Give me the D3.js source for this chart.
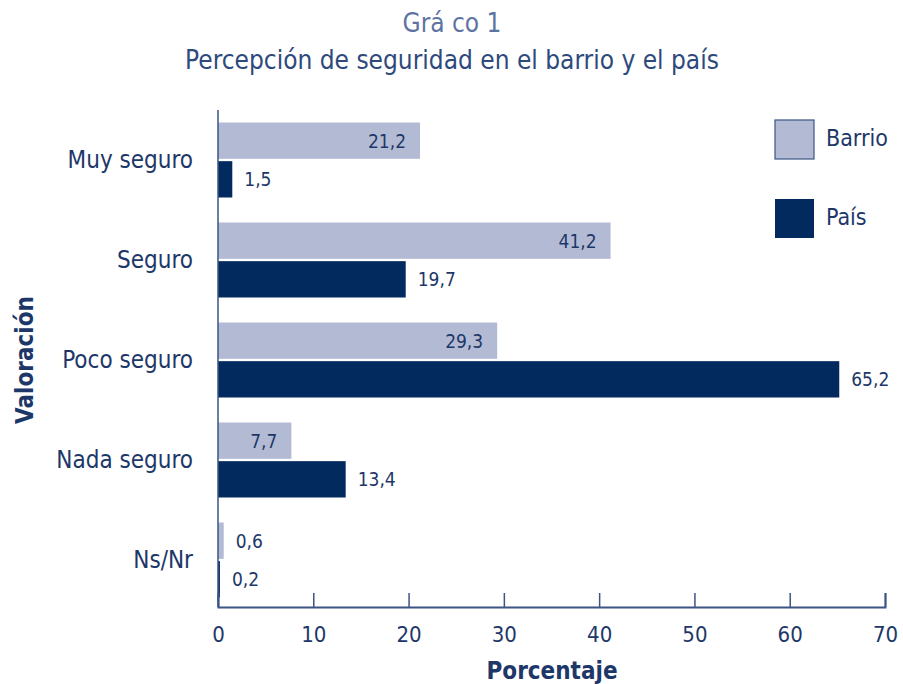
<!DOCTYPE html>
<html>
<head>
<meta charset="utf-8">
<script src="https://cdn.jsdelivr.net/npm/d3@7"></script>
<style>
body{margin:0;background:#fff;}
text{font-family:"Liberation Sans Narrow","DejaVu Sans Condensed",sans-serif;}
</style>
</head>
<body>
<script>
var categories=["Muy seguro","Seguro","Poco seguro","Nada seguro","Ns/Nr"];
var series=["Barrio","País"];
var barrio=[21.2,41.2,29.3,7.7,0.6];
var pais=[1.5,19.7,65.2,13.4,0.2];
var xTicks=[0,10,20,30,40,50,60,70];
var colors={"Barrio":"#b3bbd4","País":"#022a5e"};
var ink="#1d3768";
var font='"Liberation Sans Narrow","DejaVu Sans Condensed",sans-serif';

var W=903,H=684;
var svg=d3.select("body").append("svg").attr("width",W).attr("height",H);

var x=d3.scaleLinear().domain([0,70]).range([218,885]);
var y=d3.scaleBand().domain(categories).range([110,610]).paddingInner(0.25).paddingOuter(0.125);
var ySub=d3.scaleBand().domain(series).range([0,y.bandwidth()]).paddingInner(0.06);

var rows=categories.map(function(c,i){return {cat:c,vals:[{s:"Barrio",v:barrio[i]},{s:"País",v:pais[i]}]};});

// title
svg.append("text").attr("x",452).attr("y",32).attr("text-anchor","middle")
  .attr("font-size",26).attr("fill","#5d74a3").text("Grá  co 1");
svg.append("text").attr("x",452).attr("y",69).attr("text-anchor","middle")
  .attr("font-size",26).attr("fill","#2e4a7c").text("Percepción de seguridad en el barrio y el país");

var g=svg.selectAll("g.cat").data(rows).enter().append("g").attr("class","cat")
  .attr("transform",function(d){return "translate(0,"+y(d.cat)+")";});

g.selectAll("rect").data(function(d){return d.vals;}).enter().append("rect")
  .attr("x",x(0)).attr("y",function(d){return ySub(d.s);})
  .attr("width",function(d){return x(d.v)-x(0);})
  .attr("height",ySub.bandwidth())
  .attr("fill",function(d){return colors[d.s];});

g.selectAll("text.val").data(function(d){return d.vals;}).enter().append("text")
  .attr("class","val")
  .attr("x",function(d){
    var w=x(d.v)-x(0);
    if(d.s=="Barrio" && w>50) return x(d.v)-14;
    return x(d.v)+12;
  })
  .attr("text-anchor",function(d){return (d.s=="Barrio" && x(d.v)-x(0)>50)?"end":"start";})
  .attr("y",function(d){return ySub(d.s)+ySub.bandwidth()/2;})
  .attr("dy","0.36em").attr("font-size",19).attr("fill",ink)
  .text(function(d){return String(d.v.toFixed(1)).replace(".",",");});

// axes
var xAxis=d3.axisBottom(x).tickValues(xTicks).tickSize(-14).tickPadding(19).tickFormat(function(d){return d;});
var ax=svg.append("g").attr("transform","translate(0,607)").call(xAxis);
ax.select(".domain").attr("stroke","#3b5584").attr("stroke-width",2);
ax.selectAll(".tick line").attr("stroke","#3b5584").attr("stroke-width",1.5);
ax.selectAll(".tick text").attr("font-size",22).attr("fill",ink).attr("font-family",font);

var yAxis=d3.axisLeft(y).tickSize(0).tickPadding(25);
var ay=svg.append("g").attr("transform","translate(218,0)").call(yAxis);
ay.select(".domain").attr("stroke","#3b5584").attr("stroke-width",1.5).attr("d","M0,110V607");
ay.selectAll(".tick text").attr("font-size",24).attr("fill",ink).attr("font-family",font);

svg.append("text").attr("x",552).attr("y",679).attr("text-anchor","middle")
  .attr("font-size",24).attr("font-weight","bold").attr("fill",ink)
  .attr("font-family","'Liberation Sans','DejaVu Sans',sans-serif").text("Porcentaje");
svg.append("text").attr("transform","translate(33,360) rotate(-90)").attr("text-anchor","middle")
  .attr("font-size",24).attr("font-weight","bold").attr("fill",ink)
  .attr("font-family","'Liberation Sans','DejaVu Sans',sans-serif").text("Valoración");

// legend
var lg=svg.selectAll("g.leg").data(series).enter().append("g").attr("class","leg")
  .attr("transform",function(d,i){return "translate(775,"+(120+i*79)+")";});
lg.append("rect").attr("width",39).attr("height",39)
  .attr("fill",function(d){return colors[d];})
  .attr("stroke",function(d){return d=="Barrio"?"#3b5584":"none";}).attr("stroke-width",1.2);
lg.append("text").attr("x",51).attr("y",18).attr("dy","0.36em").attr("font-size",23).attr("fill",ink).text(function(d){return d;});
</script>
</body>
</html>
